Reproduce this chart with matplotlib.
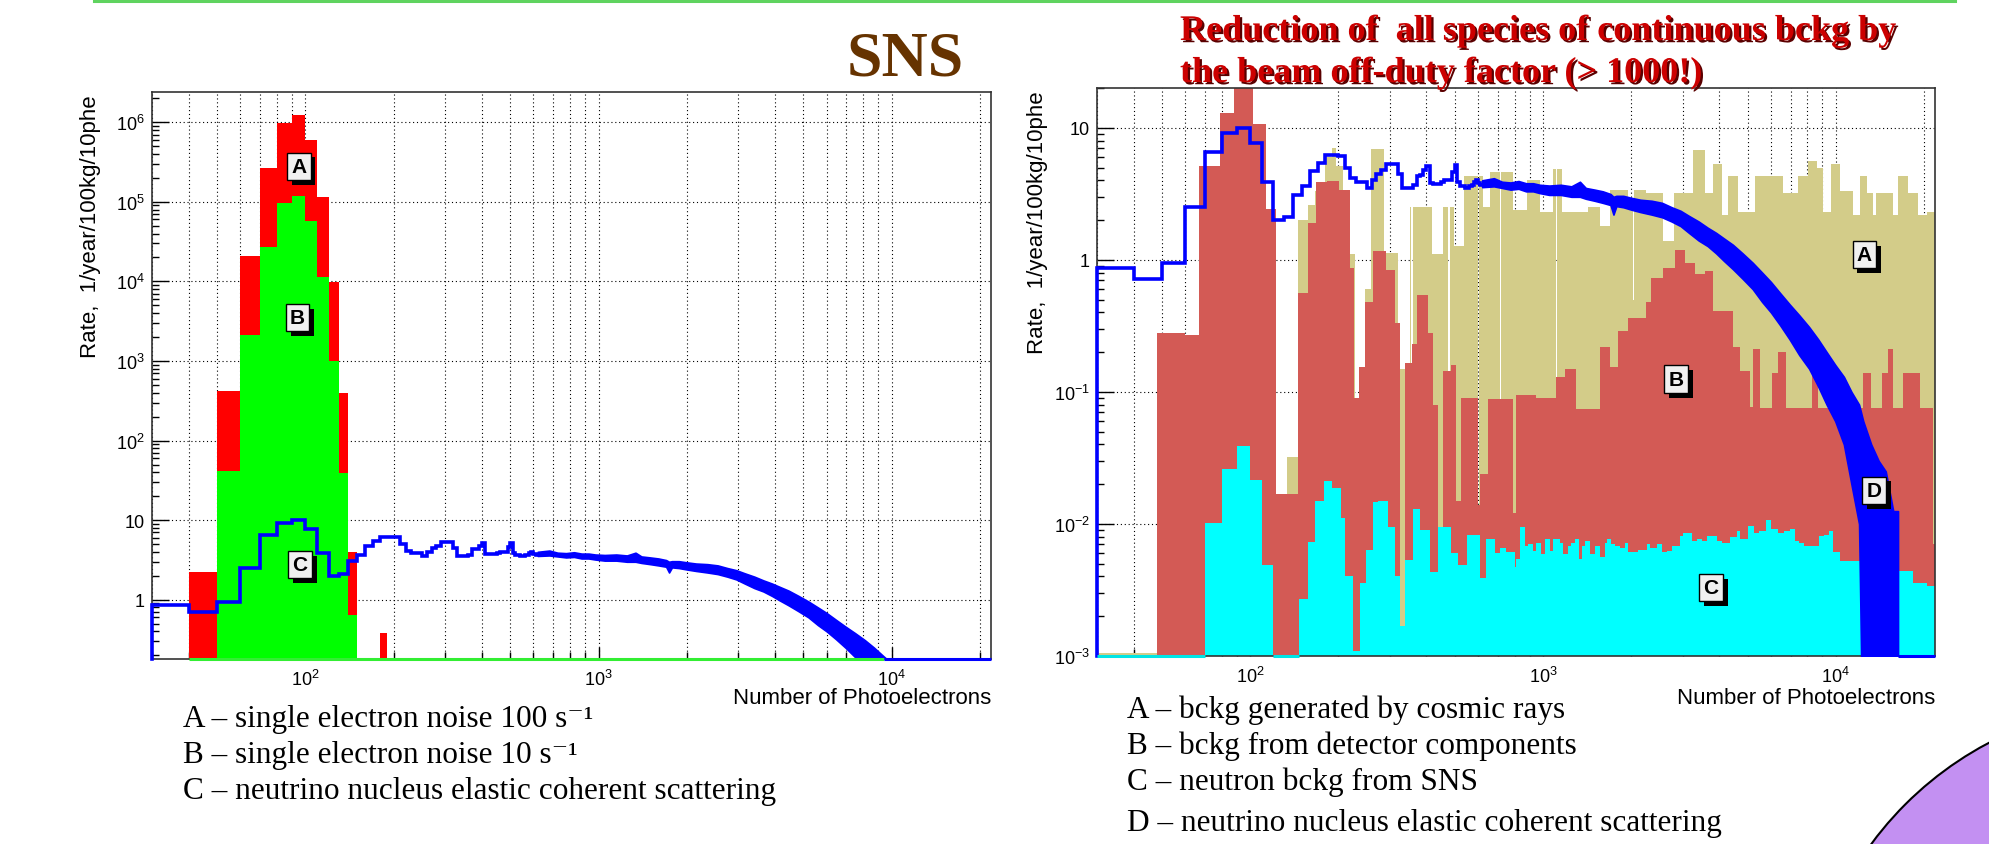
import numpy as np
import matplotlib
matplotlib.use("Agg")
import matplotlib.pyplot as plt
from matplotlib import patheffects as pe
from matplotlib.lines import Line2D
from matplotlib.patches import Ellipse
from matplotlib.ticker import FixedLocator, LogLocator, NullFormatter

plt.rcParams['font.family'] = ['Liberation Sans', 'DejaVu Sans']
plt.rcParams['mathtext.fontset'] = 'custom'
plt.rcParams['mathtext.rm'] = 'Liberation Sans'
plt.rcParams['mathtext.it'] = 'Liberation Sans:italic'
plt.rcParams['mathtext.bf'] = 'Liberation Sans:bold'
SERIF = ['Liberation Serif', 'DejaVu Serif']

XMIN, XMAX = 30, 21800

# ---------------- left plot (SNS, PMT noise) ----------------
noise100_edges = [40, 50, 60, 70, 80, 90, 100, 110, 120, 130, 140, 150, 180, 190]
noise100_vals = [2.2, 415, 2.1e4, 2.65e5, 9.8e5, 1.25e6, 6.0e5, 1.16e5, 9.8e3, 395, 4.0, 0, 0.38]

noise10_edges = [50, 60, 70, 80, 90, 100, 110, 120, 130, 140, 150]
noise10_vals = [42, 2150, 2.7e4, 9.7e4, 1.2e5, 5.8e4, 1.15e4, 1.0e3, 39.5, 0.64]

# ---------------- neutrino signal (same histogram on both plots) ----------------
nu_edges = list(range(30, 630, 10))
nu_vals = [0.87, 0.71, 0.94, 2.5, 6.6, 9.1, 10.0, 7.7, 3.9, 2.0,
           2.1, 3.1, 3.6, 4.7, 5.4, 6.2, 6.2, 6.1, 5.0, 4.15,
           3.9, 3.9, 3.5, 4.0, 4.5, 4.8, 5.3, 5.3, 5.3, 4.5,
           3.5, 3.5, 3.5, 3.7, 4.3, 4.4, 4.8, 5.1, 3.8, 3.75,
           3.75, 3.75, 3.9, 4.0, 4.0, 4.0, 4.6, 5.2, 3.9, 3.6,
           3.6, 3.5, 3.5, 3.6, 3.7, 3.9, 4.0, 3.8, 3.7]

# noisy tail: lower / upper edge of the fluctuating band
nu_band_x = [620, 680, 725, 775, 825, 875, 925, 975, 1050, 1150,
             1250, 1337, 1400, 1500, 1600, 1700, 1740, 1780, 1880, 2000,
             2150, 2350, 2550, 2750, 2950, 3150, 3400, 3650, 3900, 4150,
             4450, 4800, 5200, 5600, 6000, 6450, 6950, 7500, 8100, 8700,
             9300, 9950, 10650, 11300, 12000, 12400, 13200, 14000, 14800, 15700,
             16300]
nu_band_lo = [3.55, 3.6, 3.5, 3.4, 3.45, 3.3, 3.3, 3.2, 3.1, 3.1,
              3.0, 3.0, 2.9, 2.8, 2.7, 2.6, 2.2, 2.55, 2.5, 2.4,
              2.3, 2.2, 2.1, 1.95, 1.8, 1.6, 1.4, 1.27, 1.12, 0.98,
              0.85, 0.72, 0.6, 0.48, 0.4, 0.32, 0.25, 0.19, 0.15, 0.11,
              0.08, 0.06, 0.04, 0.02, 0.01, 0, 0, 0, 0, 0,
              0]
nu_band_hi = [4.0, 4.15, 3.9, 3.85, 3.95, 3.8, 3.8, 3.7, 3.65, 3.7,
              3.6, 3.9, 3.5, 3.4, 3.3, 3.15, 3.0, 3.05, 3.05, 2.95,
              2.85, 2.8, 2.7, 2.5, 2.35, 2.15, 1.95, 1.75, 1.6, 1.45,
              1.3, 1.12, 0.95, 0.8, 0.68, 0.56, 0.46, 0.38, 0.31, 0.25,
              0.2, 0.16, 0.13, 0.1, 0.08, 0.06, 0.04, 0.03, 0.025, 0.0125,
              0.0125]

# ---------------- right plot backgrounds ----------------
cosmic_edges = [30, 48, 60, 67, 79, 88, 102, 113, 123, 134,
                146, 157, 167, 180, 190, 196, 207, 216, 228, 235,
                246, 259, 286, 320, 351, 355, 360, 417, 454, 474,
                480, 497, 536, 598, 606, 624, 658, 712, 720, 788,
                880, 980, 1083, 1105, 1115, 1160, 1430, 1560, 1690, 1950,
                2030, 2045, 2250, 2570, 2810, 3250, 3570, 3810, 4070, 4290,
                4640, 5290, 6610, 7430, 8040, 8590, 9050, 9660, 10320, 11460,
                12070, 12730, 13400, 13760, 15700, 16320, 17650, 19100, 20400, 21800]
cosmic_vals = [0.00105, 0.2, 0.2, 4.6, 9, 12, 7, 1.5, 0.003, 0.032,
               2.0, 2.6, 3.3, 6.0, 7.0, 5.1, 2.6, 1.1, 0.09, 0.1,
               0.6, 6.9, 1.13, 0.15, 2.5, 0.03, 2.5, 1.1, 2.5, 0.08,
               2.5, 1.28, 4.3, 0.014, 4.3, 2.5, 4.6, 0.03, 4.6, 2.4,
               4.0, 2.3, 4.9, 0.08, 4.9, 2.3, 2.5, 1.8, 3.4, 2.6,
               0.5, 3.4, 3.2, 1.4, 3.2, 6.8, 3.2, 5.3, 2.2, 4.3,
               2.3, 4.3, 3.2, 4.3, 5.6, 5.0, 2.3, 5.3, 3.3, 2.2,
               4.3, 3.2, 2.2, 3.2, 2.2, 4.3, 3.2, 2.2, 2.3]

detector_edges = [48, 60, 67, 79, 88, 102, 113, 123, 146, 157,
                  168, 183, 201, 219, 227, 235, 246, 262, 290, 313,
                  324, 337, 356, 370, 405, 421, 438, 456, 486, 506,
                  526, 598, 608, 649, 790, 811, 949, 1110, 1186, 1300,
                  1560, 1689, 1803, 1950, 2253, 2343, 2570, 2813, 3060, 3300,
                  3570, 3810, 4450, 4690, 5090, 5220, 5510, 6030, 6350, 6780,
                  8260, 8700, 12400, 13230, 14320, 15080, 15700, 16960, 19360, 21500,
                  21800]
detector_vals = [0.28, 0.27, 5.1, 13, 24, 10.7, 2.44, 0.017, 0.56, 1.9,
                 3.85, 3.98, 3.4, 0.87, 0.09, 0.155, 0.48, 1.17, 0.84, 0.33,
                 0.0017, 0.166, 0.23, 0.54, 0.28, 0.08, 0.0044, 0.145, 0.16, 0.015,
                 0.09, 0.014, 0.024, 0.088, 0.012, 0.095, 0.09, 0.13, 0.15, 0.074,
                 0.22, 0.154, 0.29, 0.365, 0.48, 0.73, 0.86, 1.18, 0.95, 0.78,
                 0.83, 0.41, 0.22, 0.145, 0.077, 0.21, 0.075, 0.14, 0.2, 0.075,
                 0.14, 0.075, 0.14, 0.075, 0.14, 0.21, 0.075, 0.14, 0.075, 0.007]

neutron_edges = [70, 80, 90, 100, 110, 120, 147, 157, 167, 179,
                 190, 204, 211, 224, 237, 248, 262, 273, 296, 312,
                 324, 337, 360, 380, 410, 438, 486, 512, 548, 608,
                 640, 683, 711, 750, 801, 811, 833, 866, 889, 925,
                 944, 988, 1013, 1053, 1081, 1140, 1170, 1218, 1250, 1282,
                 1325, 1355, 1390, 1443, 1500, 1561, 1624, 1650, 1710, 1758,
                 1829, 1902, 1952, 2113, 2257, 2315, 2441, 2540, 2642, 2748,
                 2932, 2995, 3214, 3344, 3479, 3620, 3918, 4076, 4357, 4594,
                 4707, 4996, 5260, 5470, 5773, 5997, 6333, 6670, 6950, 7225,
                 7500, 7800, 8790, 9140, 9500, 9760, 10300, 12400, 16320, 18350,
                 20400, 21800]
neutron_vals = [0.0102, 0.026, 0.039, 0.0214, 0.0049, 0, 0.0027, 0.0073, 0.015, 0.021,
                0.0186, 0.011, 0.004, 0.0011, 0.0036, 0.0064, 0.0147, 0.015, 0.0095, 0.004,
                0.0017, 0.0053, 0.013, 0.009, 0.0043, 0.0095, 0.006, 0.0049, 0.0083, 0.0039,
                0.0077, 0.006, 0.0066, 0.0061, 0.0047, 0.0054, 0.0095, 0.0068, 0.0070, 0.0062,
                0.0072, 0.0059, 0.0077, 0.0062, 0.0077, 0.0072, 0.0059, 0.0068, 0.0072, 0.0077,
                0.0054, 0.0068, 0.0074, 0.0059, 0.0068, 0.0056, 0.0072, 0.0077, 0.0070, 0.0068,
                0.0066, 0.0072, 0.0061, 0.0064, 0.0070, 0.0066, 0.0070, 0.0061, 0.0062, 0.0068,
                0.0081, 0.0086, 0.0074, 0.0077, 0.0074, 0.0081, 0.0074, 0.0072, 0.0079, 0.0089,
                0.0077, 0.0097, 0.0086, 0.0089, 0.0108, 0.0091, 0.0086, 0.0089, 0.0091, 0.0074,
                0.0072, 0.0068, 0.0081, 0.0083, 0.0089, 0.0061, 0.0052, 0.0045, 0.0044, 0.0036,
                0.0034]

BLUE = '#0000ff'

fig = plt.figure(figsize=(19.9, 8.45), dpi=100)
fig.patch.set_facecolor('white')

axL = fig.add_axes([152 / 1990, 1 - 660 / 845, 839 / 1990, 567 / 845])
axR = fig.add_axes([1097 / 1990, 1 - 657 / 845, 838 / 1990, 568 / 845])


def setup(ax, ylo, yhi, ymajor, ylabels):
    ax.set_xscale('log')
    ax.set_yscale('log')
    ax.set_xlim(XMIN, XMAX)
    ax.set_ylim(ylo, yhi)
    ax.xaxis.set_major_locator(FixedLocator([100, 1000, 10000]))
    ax.set_xticklabels(['$10^{2}$', '$10^{3}$', '$10^{4}$'])
    ax.xaxis.set_minor_locator(LogLocator(base=10, subs=np.arange(2, 10), numticks=100))
    ax.xaxis.set_minor_formatter(NullFormatter())
    ax.yaxis.set_major_locator(FixedLocator(ymajor))
    ax.set_yticklabels(ylabels)
    ax.yaxis.set_minor_locator(LogLocator(base=10, subs=np.arange(2, 10), numticks=100))
    ax.yaxis.set_minor_formatter(NullFormatter())
    ax.tick_params(which='both', direction='in', top=False, right=False,
                   labelsize=13, width=1, color='black')
    ax.tick_params(axis='y', which='major', length=12, pad=5)
    ax.tick_params(axis='y', which='minor', length=5)
    ax.tick_params(axis='x', which='major', length=9, pad=7)
    ax.tick_params(axis='x', which='minor', length=5)
    ax.grid(True, which='both', axis='x', color='black', ls=(0, (1, 2.5)), lw=0.8)
    ax.grid(True, which='major', axis='y', color='black', ls=(0, (1, 2.5)), lw=0.8)
    ax.set_axisbelow(True)
    for s in ax.spines.values():
        s.set_color('#333333')
        s.set_linewidth(1.2)


def fill_hist(ax, edges, vals, color, base):
    v = np.asarray(vals, float)
    v = np.where(v > 0, v, base)
    ax.stairs(v, edges, fill=True, baseline=base, color=color, lw=0, zorder=2)


def signal(ax, base, ylo):
    lo = np.maximum(np.asarray(nu_band_lo, float), base)
    ax.fill_between(nu_band_x, lo, nu_band_hi, color=BLUE, lw=1.2, zorder=4)
    ax.stairs(nu_vals, nu_edges, baseline=None, color=BLUE, lw=2.6, zorder=5)
    ax.plot([nu_edges[0], nu_edges[0]], [ylo, nu_vals[0]], color=BLUE, lw=2.6,
            clip_on=False, zorder=5)


def floor_line(ax, x0, x1, y, color):
    ax.plot([x0, x1], [y, y], color=color, lw=2.2, clip_on=False, zorder=6,
            solid_capstyle='butt')


def tag(ax, x, y, s):
    t = ax.text(x, y, s, ha='center', va='center', fontsize=15, fontweight='bold',
                color='black', zorder=9,
                bbox=dict(boxstyle='square,pad=0.2', fc='#f0f0f0', ec='black', lw=1))
    t.get_bbox_patch().set_path_effects(
        [pe.withSimplePatchShadow(offset=(3.5, -3.5), shadow_rgbFace='black', alpha=1.0)])


# ---- left ----
yloL, yhiL = 0.18, 2.4e6
setup(axL, yloL, yhiL, [1, 10, 1e2, 1e3, 1e4, 1e5, 1e6],
      ['1', '10', '$10^{2}$', '$10^{3}$', '$10^{4}$', '$10^{5}$', '$10^{6}$'])
fill_hist(axL, noise100_edges, noise100_vals, '#ff0000', 0.01)
fill_hist(axL, noise10_edges, noise10_vals, '#00ff00', 0.01)
floor_line(axL, 40, 9400, yloL, '#33ee33')
floor_line(axL, 9400, XMAX, yloL, BLUE)
signal(axL, 0.01, yloL)
tag(axL, 95, 2.8e5, 'A')
tag(axL, 94, 3.5e3, 'B')
tag(axL, 96, 2.77, 'C')

# ---- right ----
yloR, yhiR = 1e-3, 20
setup(axR, yloR, yhiR, [1e-3, 1e-2, 1e-1, 1, 10],
      ['$10^{-3}$', '$10^{-2}$', '$10^{-1}$', '1', '10'])
fill_hist(axR, cosmic_edges, cosmic_vals, '#d3cc89', 1e-4)
fill_hist(axR, detector_edges, detector_vals, '#d35a55', 1e-4)
fill_hist(axR, neutron_edges, neutron_vals, '#00ffff', 1e-4)
floor_line(axR, 30, 70, yloR, '#00e5e5')
floor_line(axR, 120, 147, yloR, '#00e5e5')
floor_line(axR, 16300, XMAX, yloR, BLUE)
signal(axR, 1e-4, yloR)
tag(axR, 12500, 1.1, 'A')
tag(axR, 2850, 0.125, 'B')
tag(axR, 3750, 0.0033, 'C')
tag(axR, 13500, 0.018, 'D')

# ---- axis titles (ROOT style) ----
for xr in (991, 1935):
    fig.text(xr / 1990, 1 - 699 / 845, 'Number of Photoelectrons', ha='right',
             va='center', fontsize=16)
fig.text(91 / 1990, 1 - 95 / 845, 'Rate,  1/year/100kg/10phe', rotation=90,
         ha='center', va='top', fontsize=16)
fig.text(1038 / 1990, 1 - 91 / 845, 'Rate,  1/year/100kg/10phe', rotation=90,
         ha='center', va='top', fontsize=16)

# ---- slide decorations ----
fig.add_artist(Line2D([94 / 1990, 1955 / 1990], [1 - 1.5 / 845] * 2,
                      color='#5fd35f', lw=2.2))
fig.add_artist(Ellipse((2150 / 1990, 1 - 1050 / 845), 692 / 1990, 692 / 845,
                       transform=fig.transFigure, fc='#c390f2', ec='black', lw=1.5))

fig.text(905 / 1990, 1 - 76 / 845, 'SNS', ha='center', va='baseline',
         fontsize=46, fontweight='bold', color='#663300', family=SERIF)

shadow = [pe.withSimplePatchShadow(offset=(1.6, -1.6), shadow_rgbFace='#5a0000', alpha=1.0)]
fig.text(1180 / 1990, 1 - 41 / 845, 'Reduction of  all species of continuous bckg by',
         ha='left', va='baseline', fontsize=26, fontweight='bold', color='#cc0000',
         family=SERIF, path_effects=shadow, zorder=10)
fig.text(1180 / 1990, 1 - 83 / 845, 'the beam off-duty factor (> 1000!)',
         ha='left', va='baseline', fontsize=26, fontweight='bold', color='#cc0000',
         family=SERIF, path_effects=shadow, zorder=10)

left_notes = ['A \u2013 single electron noise 100 s\u207b\u00b9',
              'B \u2013 single electron noise 10 s\u207b\u00b9',
              'C \u2013 neutrino nucleus elastic coherent scattering']
for txt, yb in zip(left_notes, [727, 763, 799]):
    fig.text(183 / 1990, 1 - yb / 845, txt, ha='left', va='baseline',
             fontsize=22.5, family=SERIF)

right_notes = ['A \u2013 bckg generated by cosmic rays',
               'B \u2013 bckg from detector components',
               'C \u2013 neutron bckg from SNS',
               'D \u2013 neutrino nucleus elastic coherent scattering']
for txt, yb in zip(right_notes, [718, 754, 790, 831]):
    fig.text(1127 / 1990, 1 - yb / 845, txt, ha='left', va='baseline',
             fontsize=22.5, family=SERIF)

fig.savefig('out.png', dpi=100)
